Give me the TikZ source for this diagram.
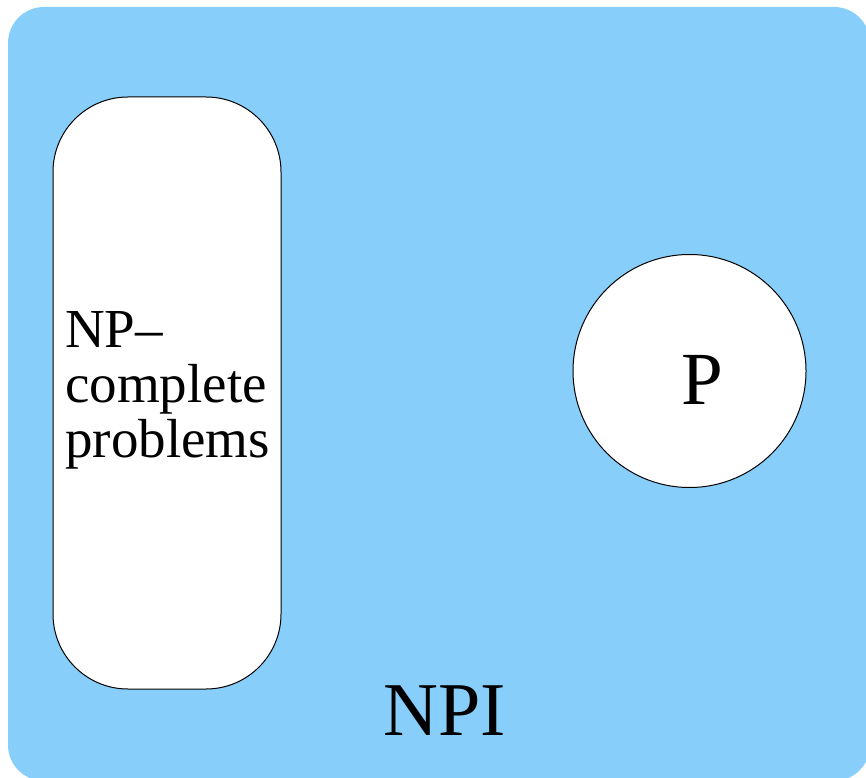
\documentclass[tikz,border=0pt]{standalone}
\usepackage{fontspec}
\setmainfont{Liberation Serif}
\definecolor{skyb}{HTML}{87CEFA}
\begin{document}
\begin{tikzpicture}[x=1pt,y=1pt,
  region/.style={fill=skyb,draw=none,rounded corners=36pt},
  setshape/.style={fill=white,draw=black,line width=1pt},
  lbl/.style={inner sep=0pt,font=#1}]
\useasboundingbox (0,0) rectangle (866,777);
\begin{scope}
\clip (0,0) rectangle (866,777);
\path[region] (8,-4) rectangle (870,770);
\end{scope}
% NP-complete pill
\node[setshape,rounded corners=75pt,minimum width=228pt,minimum height=592pt,inner sep=0pt] (npc) at (167,384) {};
\node[lbl=\fontsize{55}{55}\selectfont,align=left,anchor=base west] (npct) at (65,320) {NP–\\complete\\problems};
% P circle
\node[setshape,circle,minimum size=233pt,inner sep=0pt] (p) at (689.5,406) {};
\node[lbl=\fontsize{75}{78}\selectfont,anchor=base] (pt) at (702,373) {P};
% NPI label
\node[lbl=\fontsize{76}{80}\selectfont,anchor=base] (npi) at (445,42) {NPI};
\end{tikzpicture}
\end{document}
